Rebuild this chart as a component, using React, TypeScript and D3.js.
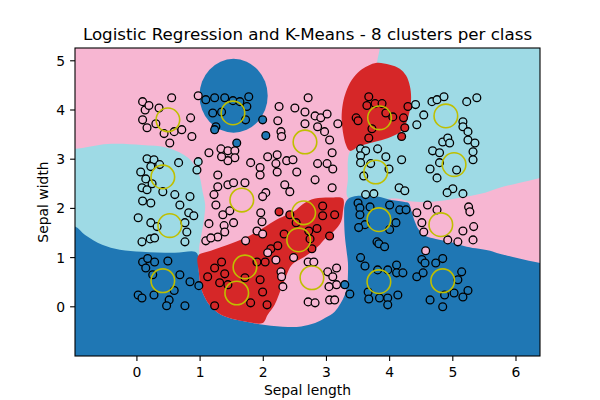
import React from 'react';
import * as d3 from 'd3';

const W = 600, H = 400;
const M = { left: 75, right: 540, top: 48, bottom: 356 };
const xDomain: [number, number] = [-0.98, 6.38];
const yDomain: [number, number] = [-1.0, 5.26];
const xTicks = [0, 1, 2, 3, 4, 5, 6];
const yTicks = [0, 1, 2, 3, 4, 5];
const classColors = ['#1f77b4', '#d62728', '#f7b6d2', '#9edae5'];
const backgroundClass = 2;
const centerColor = '#bfbf00';
const title = 'Logistic Regression and K-Means - 8 clusters per class';
const xLabel = 'Sepal length';
const yLabel = 'Sepal width';

// decision regions (outlines, data units), painted over the background class
const regionCyanRight: [number, number][] = [
  [3.89, 5.63], [3.84, 5.22], [3.80, 4.96], [3.77, 4.21], [3.53, 3.39], [3.37, 3.15], [3.34, 2.99],
  [3.34, 2.62], [3.35, 2.20], [4.11, 2.20], [4.30, 2.15], [4.59, 2.13], [4.91, 2.17], [5.22, 2.24],
  [5.51, 2.32], [5.74, 2.42], [6.06, 2.52], [6.38, 2.62], [6.69, 2.70], [6.69, 5.63],
];
const regionCyanLeft: [number, number][] = [
  [-1.22, 3.21], [-0.98, 3.21], [-0.46, 3.31], [0.08, 3.29], [0.49, 3.23], [0.81, 3.03], [0.97, 2.74],
  [1.04, 2.34], [1.08, 2.07], [1.06, 1.77], [0.99, 1.26], [0.92, 0.75], [-1.22, 0.75],
];
const regionBlueBottom: [number, number][] = [
  [-1.22, 1.65], [-0.98, 1.63], [-0.82, 1.46], [-0.55, 1.26], [-0.27, 1.16], [0.08, 1.12], [0.60, 1.10],
  [0.92, 1.12], [0.97, 1.04], [0.98, 0.71], [1.01, 0.41], [1.08, 0.18], [1.16, 0.02], [1.28, -0.12],
  [1.44, -0.22], [1.71, -0.30], [2.03, -0.37], [2.39, -0.41], [2.60, -0.40], [2.82, -0.33], [2.99, -0.22],
  [3.13, -0.10], [3.22, 0.06], [3.29, 0.24], [3.33, 0.45], [3.34, 0.65], [3.34, 0.90], [3.32, 1.12],
  [3.29, 1.46], [3.28, 1.87], [3.29, 2.07], [3.35, 2.20], [3.56, 2.26], [3.81, 2.24], [4.03, 2.17],
  [4.24, 2.13], [4.30, 2.11], [4.35, 1.93], [4.40, 1.73], [4.46, 1.57], [4.57, 1.44], [4.73, 1.38],
  [4.89, 1.34], [5.22, 1.22], [5.59, 1.14], [5.74, 1.08], [6.38, 0.89], [6.69, 0.85], [6.69, -1.28],
  [-1.22, -1.28],
];
const regionRedCrescent: [number, number][] = [
  [0.97, 1.04], [1.17, 1.14], [1.44, 1.26], [1.71, 1.40], [1.96, 1.57], [2.18, 1.75], [2.34, 1.85],
  [2.50, 1.95], [2.59, 2.05], [2.71, 2.15], [2.82, 2.20], [3.05, 2.22], [3.26, 2.20], [3.26, 1.93],
  [3.23, 1.73], [3.12, 1.54], [2.99, 1.40], [2.86, 1.22], [2.66, 1.02], [2.45, 0.85], [2.37, 0.65],
  [2.29, 0.39], [2.18, 0.04], [2.07, -0.16], [1.99, -0.33], [1.71, -0.30], [1.44, -0.22], [1.28, -0.12],
  [1.16, 0.02], [1.08, 0.18], [1.01, 0.41], [0.98, 0.71],
];
const regionRedTop: [number, number][] = [
  [3.80, 4.96], [4.00, 4.92], [4.16, 4.84], [4.26, 4.70], [4.32, 4.49], [4.34, 4.25], [4.32, 4.00],
  [4.27, 3.76], [4.19, 3.58], [4.07, 3.48], [3.88, 3.39], [3.69, 3.33], [3.50, 3.25], [3.37, 3.17],
  [3.31, 3.29], [3.26, 3.56], [3.24, 3.84], [3.26, 4.13], [3.31, 4.37], [3.40, 4.61], [3.53, 4.80],
  [3.66, 4.90],
];
const blueDisc = { cx: 1.53, cy: 4.29, rx: 0.54, ry: 0.75 };

// samples per class: 0 blue, 1 red, 2 pink, 3 cyan
const blueClass: [number, number][] = [
  [1.09, 4.21], [1.23, 4.25], [1.39, 4.25], [1.52, 4.19], [1.63, 4.17], [1.77, 4.27], [1.74, 4.07],
  [1.20, 3.94], [1.25, 3.66], [1.23, 3.60], [1.72, 3.80], [1.34, 3.96], [1.99, 3.80], [2.04, 3.48], [1.58, 3.33],
  [0.09, 0.91], [0.17, 0.98], [0.28, 0.91], [0.49, 0.93], [0.14, 0.79], [0.25, 0.65], [0.68, 0.65], [0.84, 0.51],
  [0.98, 0.43], [0.59, 0.33], [0.02, 0.24], [0.08, 0.18], [0.27, 0.24], [0.51, 0.14], [0.47, 0.02], [0.76, 0.02],
  [3.50, 2.11], [3.53, 2.01], [3.69, 2.03], [4.00, 2.07], [4.16, 1.97], [4.26, 1.97], [3.53, 1.87], [3.61, 1.67],
  [3.51, 1.61], [4.00, 1.57], [4.10, 1.71], [3.80, 1.32], [3.83, 1.28], [3.92, 1.22],
  [3.54, 1.00], [3.61, 0.83], [3.81, 0.75], [3.97, 0.75], [4.11, 0.85], [4.11, 0.69], [4.21, 0.69], [3.37, 0.26],
  [3.29, 0.45], [3.66, 0.30], [3.67, 0.16], [3.84, 0.18], [3.97, 0.18], [3.97, 0.04], [4.13, 0.24],
  [4.51, 0.96], [4.56, 0.89], [4.73, 0.89], [4.84, 0.98], [4.43, 0.61], [4.53, 0.69], [5.14, 0.71], [5.08, 0.55],
  [5.24, 0.33], [5.16, 0.20], [5.02, 0.28], [4.87, 0.24], [4.84, 0.00], [4.64, 0.14],
];
const redClass: [number, number][] = [
  [3.67, 4.27], [3.64, 4.09], [3.77, 4.13], [3.88, 4.13], [3.47, 3.84], [3.50, 3.78], [3.72, 3.62], [3.67, 3.43],
  [4.05, 3.86], [4.22, 3.84], [4.24, 3.64], [4.19, 3.46], [4.29, 4.07], [3.94, 3.94],
  [1.12, 0.61], [1.23, 0.79], [1.34, 0.91], [1.39, 0.67], [1.31, 0.49], [1.44, 0.45], [1.23, 0.02], [1.71, 0.59],
  [1.95, 0.55], [1.99, 0.30], [2.06, 0.04], [1.80, 0.08], [1.90, 0.91], [2.03, 0.91], [2.12, 1.18], [2.23, 1.24],
  [2.33, 1.48],
  [2.25, 1.93], [2.42, 1.87], [2.52, 1.71], [2.72, 1.54], [2.74, 1.38], [2.94, 2.05], [2.94, 1.85], [3.13, 1.87],
  [2.85, 1.59], [3.05, 1.44], [2.77, 1.18],
];
const pinkClass: [number, number][] = [
  [0.09, 4.17], [0.13, 4.00], [0.19, 4.09], [0.35, 4.04], [0.55, 4.25], [0.09, 3.80], [0.16, 3.64], [0.43, 3.52],
  [0.59, 3.56], [0.71, 3.60], [0.85, 3.84], [0.87, 3.46], [0.52, 3.33], [0.30, 3.72], [0.97, 4.29],
  [2.25, 4.07], [2.50, 4.04], [2.66, 3.96], [2.71, 4.25], [2.23, 3.78], [2.28, 3.56], [2.29, 3.46], [2.66, 3.72],
  [2.82, 3.88], [2.91, 3.84], [3.01, 3.92], [2.86, 3.66], [2.97, 3.56], [3.05, 3.39], [3.18, 3.72], [3.09, 3.13],
  [2.86, 2.91], [3.01, 2.91], [3.10, 2.80], [2.82, 2.58], [3.09, 2.42],
  [1.14, 3.13], [1.33, 3.21], [1.44, 3.17], [1.55, 3.17], [1.55, 3.03], [1.44, 2.97], [1.34, 3.05], [1.28, 2.68],
  [1.28, 2.44], [1.44, 2.48], [1.53, 2.52], [1.71, 2.52], [1.22, 2.28], [1.80, 2.93], [1.95, 2.83], [1.95, 2.68],
  [2.07, 3.05], [2.22, 3.09], [2.20, 2.91], [2.22, 2.74], [2.37, 2.97], [2.47, 2.99], [2.53, 2.74], [2.34, 2.48],
  [2.42, 2.34], [2.04, 2.32], [1.99, 2.24], [1.25, 2.07], [1.36, 1.87], [1.47, 1.95], [1.53, 1.71], [1.38, 1.65],
  [1.39, 1.52], [1.28, 1.42], [1.14, 1.69], [1.09, 1.34], [1.17, 1.40], [1.72, 1.34], [1.96, 1.91], [1.98, 1.73],
  [1.90, 1.54], [1.99, 1.48],
  [2.07, 1.10], [2.20, 0.95], [2.28, 0.71], [2.29, 0.61], [2.31, 0.41], [2.48, 1.00], [2.71, 0.91], [2.80, 0.91],
  [3.02, 0.71], [3.16, 0.79], [3.10, 0.61], [3.16, 0.45], [3.04, 0.41], [3.05, 0.14], [3.13, 0.14], [2.71, 0.10],
  [2.82, 0.08],
  [4.60, 2.07], [4.75, 1.97], [4.43, 1.91], [4.51, 1.71], [4.54, 1.52], [5.25, 2.03], [5.27, 1.93], [5.16, 1.54],
  [5.33, 1.63], [4.92, 1.36], [5.08, 1.32], [5.32, 1.36], [4.57, 1.14],
];
const cyanClass: [number, number][] = [
  [0.16, 3.01], [0.27, 2.99], [0.22, 2.85], [0.06, 2.74], [0.36, 2.89], [0.66, 2.93], [0.14, 2.60], [0.08, 2.42],
  [0.16, 2.38], [0.41, 2.34], [0.60, 2.28], [0.84, 2.24], [0.97, 2.95], [0.95, 2.78], [0.24, 2.50],
  [0.09, 2.15], [0.22, 2.11], [0.68, 2.07], [0.02, 1.81], [0.22, 1.71], [0.32, 1.63], [0.82, 1.91], [0.90, 1.85],
  [0.76, 1.71], [0.79, 1.52], [0.76, 1.32], [0.08, 1.32], [0.21, 1.38], [0.28, 1.40],
  [3.54, 3.21], [3.62, 3.17], [3.81, 3.21], [3.94, 3.05], [3.54, 3.07], [3.54, 2.93], [3.70, 2.91], [3.99, 2.80],
  [4.19, 2.99], [3.59, 2.66], [3.75, 2.30], [3.62, 2.28], [4.15, 2.42], [4.24, 2.36],
  [4.67, 4.17], [4.75, 4.21], [4.86, 4.27], [5.22, 4.17], [5.38, 4.25], [4.54, 3.90], [4.43, 3.70], [4.41, 4.11],
  [5.16, 3.76], [5.16, 3.66], [5.24, 3.56], [5.24, 3.39], [5.35, 3.33], [4.84, 3.35], [4.92, 3.43], [4.95, 3.33],
  [4.68, 3.17], [4.79, 3.13], [5.32, 3.15], [5.32, 2.99], [4.79, 2.93], [4.64, 2.80], [5.06, 2.78], [4.75, 2.62],
  [5.00, 2.40], [5.16, 2.30], [4.91, 2.32],
];
const samplesByClass = [blueClass, redClass, pinkClass, cyanClass];

// K-Means centers (visible ones)
const centers: [number, number][] = [
  [0.49, 3.80], [1.52, 3.94], [2.66, 3.35], [3.84, 3.84], [4.89, 3.88],
  [0.41, 2.64], [1.66, 2.17], [3.78, 2.74], [5.02, 2.89],
  [0.52, 1.65], [2.64, 1.91], [2.56, 1.36], [3.83, 1.77], [4.81, 1.67],
  [0.41, 0.53], [1.71, 0.81], [1.58, 0.28], [2.77, 0.59], [3.83, 0.51], [4.84, 0.53],
];

export default function App() {
  const x = d3.scaleLinear().domain(xDomain).range([M.left, M.right]);
  const y = d3.scaleLinear().domain(yDomain).range([M.bottom, M.top]);
  const area = d3.line<[number, number]>()
    .x(d => x(d[0]))
    .y(d => y(d[1]))
    .curve(d3.curveCatmullRomClosed.alpha(0.5));
  const regions: { pts: [number, number][]; cls: number }[] = [
    { pts: regionCyanRight, cls: 3 },
    { pts: regionCyanLeft, cls: 3 },
    { pts: regionBlueBottom, cls: 0 },
    { pts: regionRedCrescent, cls: 1 },
    { pts: regionRedTop, cls: 1 },
  ];
  const font = 'DejaVu Sans, sans-serif';
  return (
    <svg width={W} height={H} style={{ position: 'absolute', left: 0, top: 0, background: '#fff' }}
      fontFamily={font}>
      <defs>
        <clipPath id="plot">
          <rect x={M.left} y={M.top} width={M.right - M.left} height={M.bottom - M.top} />
        </clipPath>
      </defs>
      <g clipPath="url(#plot)">
        <rect x={M.left} y={M.top} width={M.right - M.left} height={M.bottom - M.top}
          fill={classColors[backgroundClass]} />
        {regions.map((r, i) => (
          <path key={i} d={area(r.pts) || ''} fill={classColors[r.cls]} />
        ))}
        <ellipse cx={x(blueDisc.cx)} cy={y(blueDisc.cy)}
          rx={x(blueDisc.cx + blueDisc.rx) - x(blueDisc.cx)}
          ry={y(blueDisc.cy) - y(blueDisc.cy + blueDisc.ry)} fill={classColors[0]} />
        {samplesByClass.map((pts, c) => pts.map((p, i) => (
          <circle key={c + '-' + i} cx={x(p[0])} cy={y(p[1])} r={3.9}
            fill={classColors[c]} stroke="#000" strokeWidth={1.3} />
        )))}
        {centers.map((p, i) => (
          <circle key={'c' + i} cx={x(p[0])} cy={y(p[1])} r={11.8}
            fill="none" stroke={centerColor} strokeWidth={1.6} />
        ))}
      </g>
      <rect x={M.left} y={M.top} width={M.right - M.left} height={M.bottom - M.top}
        fill="none" stroke="#000" strokeWidth={1.1} />
      {xTicks.map(t => (
        <g key={'x' + t} transform={`translate(${x(t)},${M.bottom})`}>
          <line y1={0} y2={4.9} stroke="#000" strokeWidth={1.1} />
          <text y={16} textAnchor="middle" fontSize={13.9} dominantBaseline="central" fill="#000">{t}</text>
        </g>
      ))}
      {yTicks.map(t => (
        <g key={'y' + t} transform={`translate(${M.left},${y(t)})`}>
          <line x1={0} x2={-4.9} stroke="#000" strokeWidth={1.1} />
          <text x={-9.8} textAnchor="end" fontSize={13.9} dominantBaseline="central" fill="#000">{t}</text>
        </g>
      ))}
      <text x={(M.left + M.right) / 2} y={394.5} textAnchor="middle" fontSize={13.9} fill="#000">{xLabel}</text>
      <text transform={`translate(43,${(M.top + M.bottom) / 2}) rotate(-90)`} textAnchor="middle"
        dominantBaseline="central" fontSize={13.9} fill="#000">{yLabel}</text>
      <text x={(M.left + M.right) / 2} y={39.5} textAnchor="middle" fontSize={16.7} fill="#000">{title}</text>
    </svg>
  );
}
